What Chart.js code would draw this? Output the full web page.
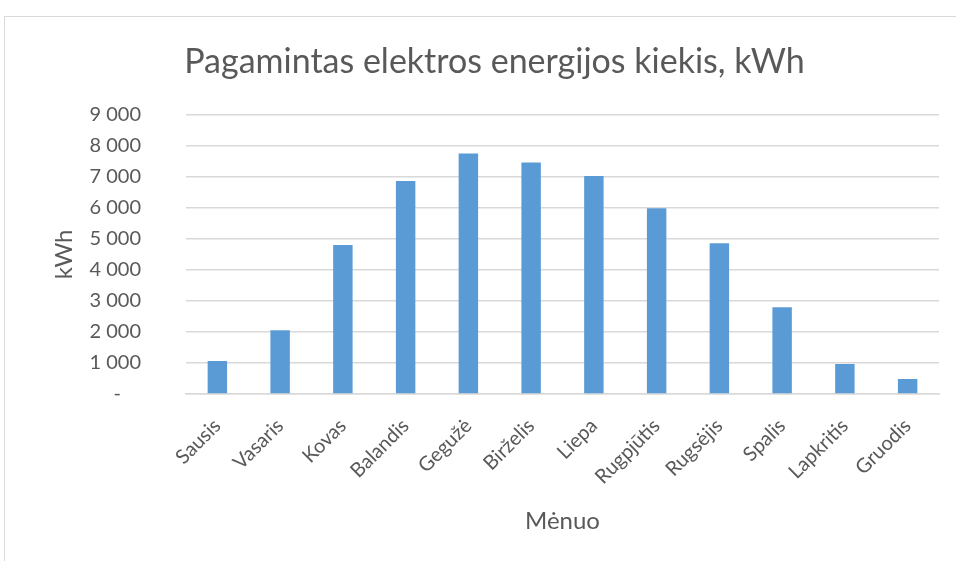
<!DOCTYPE html>
<html>
<head>
<meta charset="utf-8">
<script src="https://cdn.jsdelivr.net/npm/chart.js@4"></script>
<style>
  body { margin: 0; background: #fff; }
  #frame { position: absolute; left: 4px; top: 16px; width: 960px; height: 560px; border: 1px solid #d9d9d9; }
  #wrap { position: absolute; left: 0; top: 0; width: 956px; height: 561px; }
</style>
</head>
<body>
<div id="frame"></div>
<div id="wrap"><canvas id="myChart"></canvas></div>
<script>
// data
const months = ['Sausis', 'Vasaris', 'Kovas', 'Balandis', 'Gegužė', 'Birželis',
                'Liepa', 'Rugpjūtis', 'Rugsėjis', 'Spalis', 'Lapkritis', 'Gruodis']
const energy = [1065, 2055, 4805, 6870, 7755, 7465, 7030, 5990, 4860, 2795, 970, 485]
const yTickLabels = ['-\u2002\u2002', '1 000', '2 000', '3 000', '4 000', '5 000', '6 000', '7 000', '8 000', '9 000']

const txt = '#595959'
const font = 'Lato'

const datas = {
    labels: months,
    datasets: [{
        label: 'kWh',
        backgroundColor: '#5b9bd5',
        data: energy,
        barPercentage: 0.62,
        categoryPercentage: 0.5
    }]
}

const config = {
    type: 'bar',
    data: datas,
    options: {
        responsive: true,
        maintainAspectRatio: false,
        animation: false,
        layout: { padding: { left: 50, right: 17, top: 30, bottom: 25 } },
        plugins: {
            legend: { display: false },
            tooltip: { enabled: false },
            title: {
                display: true,
                text: 'Pagamintas elektros energijos kiekis, kWh',
                color: txt,
                font: { family: font, size: 34, weight: 'normal' },
                padding: { top: 12, bottom: 32 }
            }
        },
        scales: {
            y: {
                min: 0,
                max: 9000,
                ticks: {
                    stepSize: 1000,
                    color: txt,
                    padding: 45,
                    font: { family: font, size: 20 },
                    callback: (v, i) => yTickLabels[i]
                },
                grid: { color: '#d9d9d9', lineWidth: 1.5, drawTicks: false },
                border: { display: false },
                title: {
                    display: true,
                    text: 'kWh',
                    color: txt,
                    font: { family: font, size: 24 },
                    padding: 0
                },
                afterFit: s => { s.width = 136 }
            },
            x: {
                ticks: {
                    color: txt,
                    minRotation: 45,
                    maxRotation: 45,
                    padding: 20,
                    font: { family: font, size: 20 }
                },
                grid: { display: false, drawTicks: false },
                border: { color: '#d9d9d9', width: 1.5 },
                title: {
                    display: true,
                    text: 'Mėnuo',
                    color: txt,
                    font: { family: font, size: 24 },
                    padding: 0
                },
                afterFit: s => { s.height = 142 }
            }
        }
    }
}

new Chart(document.querySelector('#myChart'), config)
</script>
</body>
</html>
